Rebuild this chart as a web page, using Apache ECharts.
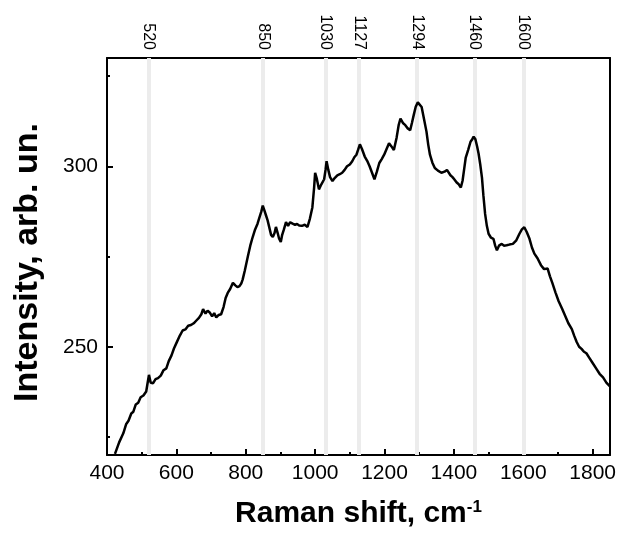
<!DOCTYPE html>
<html>
<head>
<meta charset="utf-8">
<script src="https://cdn.jsdelivr.net/npm/echarts@6.0.0/dist/echarts.min.js"></script>
<style>
  html, body { margin: 0; padding: 0; background: #fff; }
  #chart { width: 619px; height: 534px; }
</style>
</head>
<body>
<div id="chart"></div>
<script>
// Raman spectrum, values
const ramanShift = [
  423, 435, 447, 455, 462, 470, 476, 483, 490, 497, 505, 513, 518, 521, 526, 533, 540, 547, 555, 563,
  571, 578, 586, 593, 600, 610, 618, 626, 634, 642, 650, 657, 665, 672, 677, 684, 690, 696, 703, 709,
  715, 722, 729, 736, 742, 748, 755, 763, 770, 776, 782, 787, 791, 797, 806, 813, 820, 827, 834, 840,
  845, 849, 853, 858, 863, 868, 873, 878, 883, 887, 892, 896, 901, 905, 910, 916, 922, 928, 935, 942,
  948, 954, 962, 970, 978, 985, 992, 997, 1000, 1005, 1011, 1018, 1026, 1030, 1033, 1038, 1043, 1050, 1057, 1064,
  1071, 1078, 1085, 1092, 1100, 1107, 1113, 1119, 1124, 1129, 1135, 1143, 1150, 1157, 1164, 1171, 1178, 1185, 1192, 1199,
  1206, 1213, 1220, 1227, 1235, 1241, 1246, 1253, 1260, 1267, 1274, 1279, 1284, 1290, 1296, 1301, 1307, 1314, 1321, 1326,
  1331, 1338, 1345, 1354, 1364, 1373, 1380, 1383, 1390, 1396, 1401, 1408, 1414, 1420, 1425, 1430, 1434, 1441, 1448, 1453,
  1457, 1462, 1467, 1471, 1476, 1481, 1485, 1490, 1495, 1500, 1507, 1514, 1519, 1524, 1530, 1538, 1544, 1552, 1560, 1570,
  1580, 1589, 1596, 1603, 1610, 1618, 1625, 1632, 1641, 1651, 1660, 1670, 1677, 1684, 1693, 1702, 1712, 1721, 1730, 1740,
  1747, 1754, 1761, 1768, 1775, 1782, 1790, 1800, 1810, 1820, 1830, 1840, 1850
];
const intensity = [
  220.3, 223.5, 226, 228.5, 229.5, 231.5, 232, 234, 234.5, 236, 236.5, 237.6, 240.5, 242.2, 240, 239.9, 241, 241.3, 242, 243.5,
  244, 246, 247.6, 249.5, 251, 253.1, 254.5, 254.8, 255.8, 256, 256.5, 257.2, 258, 259, 260.4, 259.2, 260, 259.5, 258.4, 259.3,
  258.1, 258.8, 259, 261, 263.5, 264.9, 266, 267.7, 267, 266.5, 266.8, 267.5, 268.6, 271, 275, 278, 280.4, 282.5, 284.1, 286,
  287.5, 289.1, 288, 286.5, 285, 283, 281, 280.4, 281.5, 283.2, 281.5, 280, 279, 281, 282.5, 284.5, 283.5, 284.5, 284.1, 283.8,
  284, 283.6, 283.5, 283.8, 283.2, 285.5, 288.6, 294, 298.2, 296.5, 293.6, 295, 296.4, 299, 301.4, 299, 297, 295.9, 296.8, 297.5,
  297.8, 298.2, 299, 300, 300.5, 301.4, 302.5, 303.2, 304.6, 306.1, 304.8, 302.7, 301.5, 300, 298.2, 296.4, 298.5, 300.9, 302, 303.2,
  304.8, 306.4, 305.5, 304.5, 308, 311.5, 313.2, 312, 311.4, 310.5, 310, 312, 314.1, 316.5, 317.7, 317.3, 316.4, 313, 309.6, 306,
  303.2, 301, 299.5, 298.8, 298.2, 298.5, 299, 298.6, 297.5, 297, 296.4, 295.5, 295, 294.1, 296, 299.5, 302.3, 304.5, 306.8, 307.5,
  308.2, 307.5, 305.5, 303.6, 300.5, 296.8, 292, 286.8, 283.5, 281.3, 280.2, 279.9, 278, 276.7, 278, 278.5, 278, 278.1, 278.3, 278.5,
  279.5, 281.3, 282.5, 283.1, 281.8, 279.9, 277.5, 275.8, 274.5, 272.6, 271.5, 271.7, 269.5, 267.6, 265, 262.6, 260.5, 258.5, 256.5, 254.9,
  253, 251.3, 250, 249.4, 248.6, 248.2, 247, 245.5, 244, 242.5, 241.5, 240, 239
];
const peaks = [520, 850, 1030, 1127, 1294, 1460, 1600];
const xMajor = [400, 600, 800, 1000, 1200, 1400, 1600, 1800];
const xMinor = [500, 700, 900, 1100, 1300, 1500, 1700];
const yMajor = [250, 300];
const yMinor = [225, 275, 325];

const font = 'Arial, "Liberation Sans", sans-serif';
const black = '#000';
const plain = function (v) { return String(v); };

const chart = echarts.init(document.getElementById('chart'));

const frameLine = { show: true, lineStyle: { color: black, width: 2 } };

const option = {
  animation: false,
  backgroundColor: '#fff',
  grid: { left: 107, right: 7, top: 58, bottom: 74 },
  xAxis: [
    {
      type: 'value', position: 'bottom', min: 400, max: 1850,
      axisLine: frameLine,
      axisTick: { inside: true, length: 6, customValues: xMajor, lineStyle: { color: black, width: 2 } },
      axisLabel: { customValues: xMajor, formatter: plain, color: black, fontSize: 21, fontFamily: font, margin: 8 },
      splitLine: { show: false },
      name: '{t|Raman shift, cm}{s|-1}',
      nameLocation: 'middle',
      nameGap: 44,
      nameTextStyle: {
        rich: {
          t: { fontSize: 30, fontWeight: 'bold', fontFamily: font, color: black },
          s: { fontSize: 17, fontWeight: 'bold', fontFamily: font, color: black, verticalAlign: 'top' }
        }
      }
    },
    {
      type: 'value', position: 'bottom', min: 400, max: 1850,
      axisLine: { show: false },
      axisTick: { inside: true, length: 3, customValues: xMinor, lineStyle: { color: black, width: 2 } },
      axisLabel: { show: false },
      splitLine: { show: false }
    },
    {
      type: 'value', position: 'top', min: 400, max: 1850,
      axisLine: frameLine,
      axisTick: { show: false },
      axisLabel: { customValues: peaks, formatter: plain, rotate: 90, color: black, fontSize: 16, fontFamily: font, margin: 8 },
      splitLine: { show: false }
    }
  ],
  yAxis: [
    {
      type: 'value', position: 'left', min: 220, max: 330,
      axisLine: frameLine,
      axisTick: { inside: true, length: 6, customValues: yMajor, lineStyle: { color: black, width: 2 } },
      axisLabel: { customValues: yMajor, formatter: plain, color: black, fontSize: 21, fontFamily: font, margin: 9 },
      splitLine: { show: false },
      name: 'Intensity, arb. un.',
      nameLocation: 'middle',
      nameGap: 62,
      nameTextStyle: { fontSize: 34, fontWeight: 'bold', fontFamily: font, color: black, padding: [0, 12, 0, 0] }
    },
    {
      type: 'value', position: 'left', min: 220, max: 330,
      axisLine: { show: false },
      axisTick: { inside: true, length: 3, customValues: yMinor, lineStyle: { color: black, width: 2 } },
      axisLabel: { show: false },
      splitLine: { show: false }
    },
    {
      type: 'value', position: 'right', min: 220, max: 330,
      axisLine: frameLine,
      axisTick: { show: false },
      axisLabel: { show: false },
      splitLine: { show: false }
    }
  ],
  series: [
    {
      type: 'line',
      xAxisIndex: 0,
      yAxisIndex: 0,
      data: ramanShift.map((v, i) => [v, intensity[i]]),
      showSymbol: false,
      z: 3,
      lineStyle: { color: black, width: 2.5 },
      markLine: {
        silent: true,
        z: 1,
        symbol: ['none', 'none'],
        label: { show: false },
        lineStyle: { color: '#ececec', width: 4, type: 'solid' },
        data: peaks.map(p => ({ xAxis: p }))
      }
    }
  ]
};

chart.setOption(option);
window.addEventListener('resize', function () {
  chart.resize();
});
</script>
</body>
</html>
